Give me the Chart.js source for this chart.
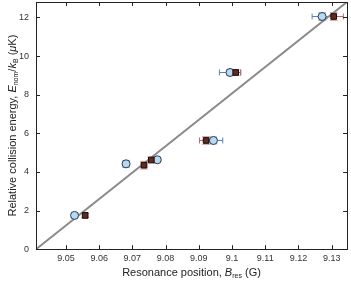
<!DOCTYPE html>
<html>
<head>
<meta charset="utf-8">
<script src="https://cdn.jsdelivr.net/npm/chart.js@4.4.1/dist/chart.umd.min.js"></script>
<style>
  html, body { margin: 0; padding: 0; background: #fff; }
  #wrap { width: 351px; height: 292px; }
</style>
</head>
<body>
<div id="wrap"><canvas id="grafico" width="351" height="292"></canvas></div>
<script>
// dados
const circX = [9.0526, 9.0681, 9.0775, 9.0944, 9.0994, 9.1271]
const circY = [1.75, 4.42, 4.63, 5.63, 9.15, 12.05]
const circXerr = [0.0008, 0.0007, 0.0006, 0.0028, 0.0032, 0.0030]
const circYerr = [0.12, 0.18, 0.12, 0.18, 0.15, 0.2]

const quadX = [9.0558, 9.0735, 9.0757, 9.0922, 9.1011, 9.1306]
const quadY = [1.75, 4.35, 4.62, 5.63, 9.15, 12.05]
const quadXerr = [0.0005, 0.0008, 0.0008, 0.0020, 0.0015, 0.0029]
const quadYerr = [0.12, 0.2, 0.15, 0.2, 0.15, 0.2]

const linhaX = [9.041, 9.1346]
const linhaY = [0, 12.8]

const xTicks = [9.05, 9.06, 9.07, 9.08, 9.09, 9.10, 9.11, 9.12, 9.13]
const xTickLabels = ['9.05', '9.06', '9.07', '9.08', '9.09', '9.1', '9.11', '9.12', '9.13']
const yTicks = [0, 2, 4, 6, 8, 10, 12]

const fonte = '"Liberation Sans", Arial, sans-serif'

function pontos(xs, ys) {
  return xs.map((x, i) => ({ x: x, y: ys[i] }))
}

// barras de erro desenhadas pelas escalas do grafico
const barrasErro = {
  id: 'barrasErro',
  beforeDatasetsDraw(chart) {
    const ctx = chart.ctx
    const sx = chart.scales.x
    const sy = chart.scales.y
    const grupos = [
      { xs: circX, ys: circY, ex: circXerr, ey: circYerr, cor: '#5b7fc0', corY: '#9cc0e6' },
      { xs: quadX, ys: quadY, ex: quadXerr, ey: quadYerr, cor: '#b86a6a', corY: '#d9a0a0' }
    ]
    ctx.save()
    ctx.lineWidth = 1
    grupos.forEach((g) => {
      g.xs.forEach((x, i) => {
        let py = sy.getPixelForValue(g.ys[i])
        let x1 = sx.getPixelForValue(x - g.ex[i])
        let x2 = sx.getPixelForValue(x + g.ex[i])
        ctx.strokeStyle = g.cor
        ctx.beginPath()
        ctx.moveTo(x1, py); ctx.lineTo(x2, py)
        ctx.moveTo(x1, py - 3); ctx.lineTo(x1, py + 3)
        ctx.moveTo(x2, py - 3); ctx.lineTo(x2, py + 3)
        ctx.stroke()
        let px = sx.getPixelForValue(x)
        let y1 = sy.getPixelForValue(g.ys[i] - g.ey[i])
        let y2 = sy.getPixelForValue(g.ys[i] + g.ey[i])
        ctx.strokeStyle = g.corY
        ctx.beginPath()
        ctx.moveTo(px, y1); ctx.lineTo(px, y2)
        ctx.moveTo(px - 4, y1); ctx.lineTo(px + 4, y1)
        ctx.moveTo(px - 4, y2); ctx.lineTo(px + 4, y2)
        ctx.stroke()
      })
    })
    ctx.restore()
  }
}

// moldura, ticks para dentro e titulos com subscrito
function escreveTrechos(ctx, trechos, x, y) {
  let total = 0
  trechos.forEach((t) => {
    ctx.font = t.f
    total += ctx.measureText(t.s).width
  })
  let cx = x - total / 2
  trechos.forEach((t) => {
    ctx.font = t.f
    ctx.fillText(t.s, cx, y + (t.dy || 0))
    cx += ctx.measureText(t.s).width
  })
}

const moldura = {
  id: 'moldura',
  afterDraw(chart) {
    const ctx = chart.ctx
    const a = chart.chartArea
    const sx = chart.scales.x
    const sy = chart.scales.y
    ctx.save()
    ctx.strokeStyle = '#222'
    ctx.lineWidth = 1
    ctx.strokeRect(Math.round(a.left) + 0.5, Math.round(a.top) + 0.5,
      Math.round(a.right - a.left), Math.round(a.bottom - a.top))
    ctx.beginPath()
    xTicks.forEach((v) => {
      let p = Math.round(sx.getPixelForValue(v)) + 0.5
      ctx.moveTo(p, a.bottom); ctx.lineTo(p, a.bottom - 4)
      ctx.moveTo(p, a.top); ctx.lineTo(p, a.top + 4)
    })
    yTicks.forEach((v) => {
      let p = Math.round(sy.getPixelForValue(v)) + 0.5
      ctx.moveTo(a.left, p); ctx.lineTo(a.left + 4, p)
      ctx.moveTo(a.right, p); ctx.lineTo(a.right - 4, p)
    })
    ctx.stroke()

    ctx.fillStyle = '#222'
    ctx.textBaseline = 'alphabetic'
    const n = '11px ' + fonte
    const it = 'italic 11px ' + fonte
    const sub = '7px ' + fonte
    escreveTrechos(ctx, [
      { s: 'Resonance position, ', f: n },
      { s: 'B', f: it },
      { s: 'res', f: sub, dy: 2 },
      { s: ' (G)', f: n }
    ], (a.left + a.right) / 2, 276)

    ctx.translate(16, (a.top + a.bottom) / 2)
    ctx.rotate(-Math.PI / 2)
    escreveTrechos(ctx, [
      { s: 'Relative collision energy, ', f: n },
      { s: 'E', f: it },
      { s: 'nom', f: sub, dy: 2 },
      { s: '/', f: n },
      { s: 'k', f: it },
      { s: 'B', f: sub, dy: 2 },
      { s: ' (', f: n },
      { s: 'μ', f: it },
      { s: 'K)', f: n }
    ], 0, 0)
    ctx.restore()
  }
}

let ctx = document.getElementById('grafico').getContext('2d')
let grafico = new Chart(ctx, {
  type: 'scatter',
  data: {
    datasets: [
      {
        label: 'linha',
        data: pontos(linhaX, linhaY),
        showLine: true,
        borderColor: '#8a8a8a',
        borderWidth: 2,
        pointRadius: 0,
        order: 3
      },
      {
        label: 'circulos',
        data: pontos(circX, circY),
        pointStyle: 'circle',
        pointRadius: 4,
        backgroundColor: '#b9d9f2',
        borderColor: '#2a3a55',
        borderWidth: 1,
        order: 2
      },
      {
        label: 'quadrados',
        data: pontos(quadX, quadY),
        pointStyle: 'rect',
        pointRadius: 4,
        backgroundColor: '#5e2a22',
        borderColor: '#1a0a08',
        borderWidth: 1,
        order: 1
      }
    ]
  },
  options: {
    responsive: false,
    animation: false,
    layout: { autoPadding: false, padding: { left: 12, right: 4, top: 2, bottom: 24 } },
    plugins: {
      legend: { display: false },
      tooltip: { enabled: false }
    },
    scales: {
      x: {
        type: 'linear',
        min: linhaX[0],
        max: linhaX[1],
        afterBuildTicks: (s) => { s.ticks = xTicks.map((v) => ({ value: v })) },
        afterFit: (s) => { s.paddingLeft = 0; s.paddingRight = 0 },
        ticks: {
          callback: (v, i) => xTickLabels[i],
          color: '#333',
          font: { size: 9, family: fonte },
          padding: 4,
          maxRotation: 0,
          autoSkip: false
        },
        grid: { display: false, drawTicks: false },
        border: { display: false }
      },
      y: {
        type: 'linear',
        min: linhaY[0],
        max: linhaY[1],
        afterBuildTicks: (s) => { s.ticks = yTicks.map((v) => ({ value: v })) },
        afterFit: (s) => { s.paddingTop = 0; s.paddingBottom = 0 },
        ticks: {
          color: '#333',
          font: { size: 9, family: fonte },
          padding: 7
        },
        grid: { display: false, drawTicks: false },
        border: { display: false }
      }
    }
  },
  plugins: [barrasErro, moldura]
})
</script>
</body>
</html>
